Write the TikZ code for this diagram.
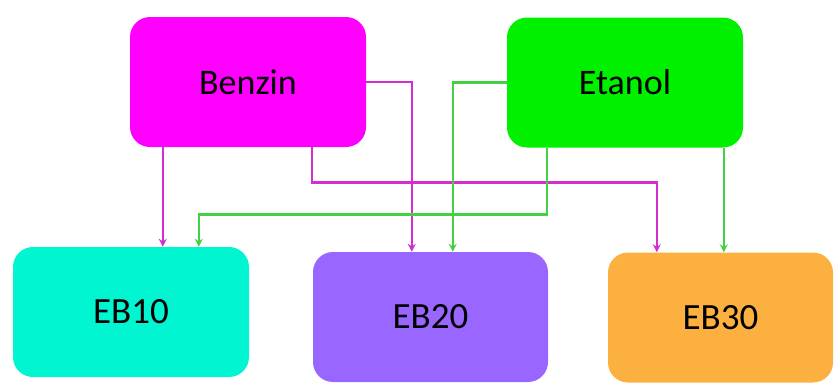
\documentclass[tikz,border=0pt]{standalone}
\usepackage{fontspec}
\setmainfont{Carlito}
\usetikzlibrary{arrows.meta}
\definecolor{benzinfill}{HTML}{FF00FF}
\definecolor{etanolfill}{HTML}{00F000}
\definecolor{ebten}{HTML}{00F5D0}
\definecolor{ebtwenty}{HTML}{9966FF}
\definecolor{ebthirty}{HTML}{FBB040}
\definecolor{benzinline}{HTML}{D22ED2}
\definecolor{etanolline}{HTML}{44D044}
\tikzset{
    fuelbox/.style={rounded corners=20pt, inner sep=0pt, minimum width=236pt, minimum height=130pt, font=\fontsize{36}{40}\selectfont},
    blendbox/.style={fuelbox, font=\fontsize{37}{40}\selectfont},
    benzinarrow/.style={draw=benzinline, line width=2.6pt, -{Stealth[length=8pt,width=8pt]}},
    etanolarrow/.style={draw=etanolline, line width=2.6pt, -{Stealth[length=8pt,width=8pt]}}
}
\begin{document}
\begin{tikzpicture}[x=1pt, y=-1pt]
                \useasboundingbox (0,0) rectangle (835,389);
                \node[fuelbox, fill=benzinfill] (benzin) at (248,82) {Benzin};
                \node[fuelbox, fill=etanolfill] (etanol) at (625,82.5) {Etanol};
                \node[blendbox, fill=ebten] (eb10) at (131,312) {EB10};
                \node[blendbox, fill=ebtwenty, minimum width=235pt] (eb20) at (430.5,317) {EB20};
                \node[blendbox, fill=ebthirty, minimum width=225pt] (eb30) at (720.5,317.5) {EB30};
                % benzin
                \draw[benzinarrow] ([xshift=33pt]benzin.south west) -- ([xshift=33pt]benzin.south west |- eb10.north);
                \draw[benzinarrow] (benzin.east) -| ([xshift=99pt]eb20.north west);
                \draw[benzinarrow] ([xshift=182pt]benzin.south west) -- ([xshift=182pt,yshift=-35pt]benzin.south west) -| ([xshift=49pt]eb30.north west);
                % etanol
                \draw[etanolarrow] (etanol.west) -| ([xshift=140pt]eb20.north west);
                \draw[etanolarrow] ([xshift=40pt]etanol.south west) -- ([xshift=40pt,yshift=-67pt]etanol.south west) -| ([xshift=186pt]eb10.north west);
                \draw[etanolarrow] ([xshift=217pt]etanol.south west) -- ([xshift=217pt]etanol.south west |- eb30.north);
                
            \end{tikzpicture}
\end{document}
